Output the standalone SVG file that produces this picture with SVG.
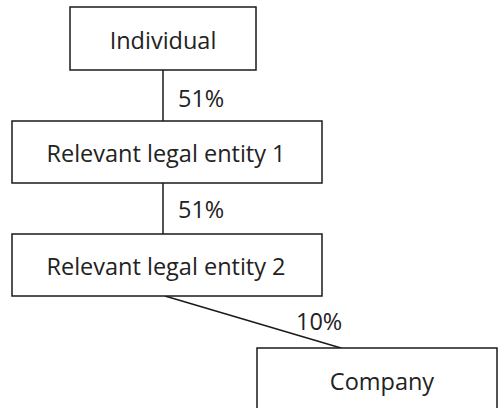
<svg xmlns="http://www.w3.org/2000/svg" width="498" height="408" viewBox="0 0 498 408">
<style>
.box{fill:#fff;stroke:#1a1a1a;stroke-width:1.5}
.t{font-family:"Open Sans","Liberation Sans",sans-serif;font-size:23.5px;fill:#222}
.c{text-anchor:middle}
.ln{stroke:#1a1a1a;stroke-width:1.5;fill:none}
</style>
<rect width="498" height="408" fill="#fff"/>
<g id="connectors">
<line class="ln" x1="163" y1="70" x2="163" y2="121"/>
<line class="ln" x1="163" y1="183" x2="163" y2="234"/>
<line class="ln" x1="165" y1="296" x2="341" y2="348"/>
<text class="t" x="178" y="107">51%</text>
<text class="t" x="178" y="218">51%</text>
<text class="t" x="296" y="330">10%</text>
</g>
<g id="individual">
<rect class="box" x="70" y="7" width="186" height="63"/>
<text class="t c" x="163" y="49">Individual</text>
</g>
<g id="rle1">
<rect class="box" x="12" y="121" width="310" height="62"/>
<text class="t c" x="166" y="162">Relevant legal entity 1</text>
</g>
<g id="rle2">
<rect class="box" x="12" y="234" width="310" height="62"/>
<text class="t c" x="166" y="275">Relevant legal entity 2</text>
</g>
<g id="company">
<rect class="box" x="257" y="348" width="240" height="80"/>
<text class="t c" x="382" y="390">Company</text>
</g>
</svg>
